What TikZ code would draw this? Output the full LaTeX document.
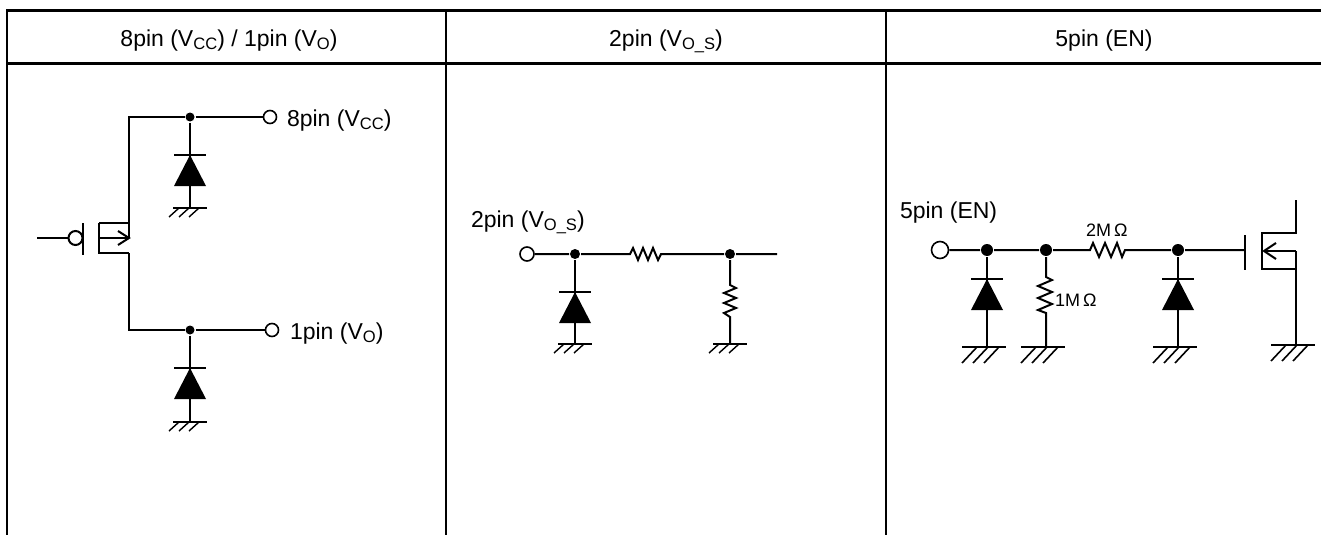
\documentclass[tikz,border=0pt]{standalone}
\usepackage{fontspec}
\setmainfont{Liberation Sans}
\usepackage{graphicx}
\newcommand\sbs[1]{\raisebox{-0.3ex}{\scalebox{0.72}{#1}}}
\begin{document}
\begin{tikzpicture}[x=1pt,y=-1pt,line width=2pt,
  tbl/.style={line width=3pt},
  jdot/.style={circle,fill,draw=none,inner sep=0pt,minimum size=#1},
  pinc/.style={circle,draw,fill=white,inner sep=0pt,minimum size=#1,line width=1.6pt},
  lbl/.style={font=\fontsize{23}{26}\selectfont,inner sep=0pt,anchor=base west},
  hdr/.style={font=\fontsize{23}{26}\selectfont,inner sep=0pt,anchor=base},
  small/.style={font=\fontsize{18}{20}\selectfont,inner sep=0pt,anchor=base west},
  diode/.pic={\draw (-16,0)--(16,0); \fill (0,0)--(-16,31)--(16,31)--cycle;},
  gnds/.pic={\draw (-17,0)--(17,0);
     \foreach \a in {-11,-1,9} \draw[line width=1.4pt] (\a,0)--(\a-10,9);},
  gndb/.pic={\draw (-25,0)--(19,0);
     \foreach \a in {-10,1,12} \draw[line width=1.6pt] (\a,0)--(\a-15,16);}
]
\useasboundingbox (0,0) rectangle (1321,535);
% table
\draw[tbl] (7,11) -- (1321,11);
\draw[tbl] (7,63) -- (1321,63);
\draw[line width=2.5pt] (7,9.5) -- (7,535);
\draw[line width=2.5pt] (446,11) -- (446,535);
\draw[line width=2.5pt] (886,11) -- (886,535);
\node[hdr] (h1) at (229,46) {8pin (V\sbs{CC}) / 1pin (V\sbs{O})};
\node[hdr] (h2) at (666,46) {2pin (V\sbs{O\_S})};
\node[hdr] (h3) at (1104,46) {5pin (EN)};

% ---------- panel 1 ----------
\coordinate (t1) at (129,117);
\coordinate (sA) at (129,238);
\node[jdot=9pt] (d1) at (190,117) {};
\node[pinc=13pt] (p8) at (270,117) {};
\node[lbl] (l8) at (286,126) {8pin (V\sbs{CC})};
\draw (sA) -- (t1) -- (d1) -- (p8);
\draw (d1) -- (190,208);
\pic at (190,155) {diode};
\pic at (190,208) {gnds};
% pmos
\draw (99,223) -- (129,223);
\draw (99,223) -- (99,253) -- (129,253);
\draw (99,238) -- (sA);
\draw (118,231) -- (sA) -- (118,245);
\draw (83,223) -- (83,255);
\node[pinc=14pt,line width=2pt] (gb) at (75.5,238) {};
\draw (37,238) -- (gb);
\coordinate (b1) at (129,253);
\coordinate (t2) at (129,330);
\node[jdot=9pt] (d2) at (190,330) {};
\node[pinc=13pt] (p1) at (272,330) {};
\node[lbl] (l1) at (289,339) {1pin (V\sbs{O})};
\draw (b1) -- (t2) -- (d2) -- (p1);
\draw (d2) -- (190,422);
\pic at (190,368) {diode};
\pic at (190,422) {gnds};

% ---------- panel 2 ----------
\node[lbl] (l2) at (470,227) {2pin (V\sbs{O\_S})};
\node[pinc=14pt] (p2) at (527,254) {};
\node[jdot=10pt] (d3) at (575,254) {};
\node[jdot=10pt] (d4) at (730,254) {};
\coordinate (e2) at (777,254);
\draw (p2) -- (d3) -- (630,254) -- (633,248) -- (638,260) -- (643,248) -- (648,260)
      -- (653,248) -- (658,260) -- (661,254) -- (d4) -- (e2);
\draw (d3) -- (575,344);
\pic at (575,292) {diode};
\pic at (575,344) {gnds};
\draw (d4) -- (730,285) -- (736,288) -- (724,293) -- (736,298) -- (724,303) -- (736,308)
      -- (724,313) -- (730,317) -- (730,344);
\pic at (730,344) {gnds};

% ---------- panel 3 ----------
\node[lbl] (l5) at (899,218) {5pin (EN)};
\node[pinc=17pt] (p5) at (940,250) {};
\node[jdot=12pt] (d5) at (987,250) {};
\node[jdot=12pt] (d6) at (1046,250) {};
\node[jdot=12pt] (d7) at (1178,250) {};
\coordinate (g5) at (1245,250);
\draw (p5) -- (d5) -- (d6) -- (1090,250) -- (1093,243) -- (1099,257) -- (1105,243)
      -- (1111,257) -- (1117,243) -- (1122,257) -- (1125,250) -- (d7) -- (g5);
\node[small] (r2) at (1085,236) {2M\,Ω};
\draw (d5) -- (987,347);
\pic at (987,279) {diode};
\pic at (987,347) {gndb};
\draw (d6) -- (1046,277) -- (1052,280) -- (1038,286) -- (1052,292) -- (1038,298)
      -- (1052,304) -- (1038,310) -- (1046,313) -- (1046,347);
\node[small] (r1) at (1054,306) {1M\,Ω};
\pic at (1046,347) {gndb};
\draw (d7) -- (1178,347);
\pic at (1178,279) {diode};
\pic at (1178,347) {gndb};
% nmos
\draw (1245,235) -- (1245,270);
\draw (1296,200) -- (1296,233) -- (1262,233) -- (1262,269) -- (1296,269);
\coordinate (sB) at (1296,251);
\coordinate (aB) at (1264,251);
\draw (sB) -- (aB);
\draw (1276,243) -- (aB) -- (1276,259);
\draw (sB) -- (1296,345);
\pic at (1296,345) {gndb};
\end{tikzpicture}
\end{document}
